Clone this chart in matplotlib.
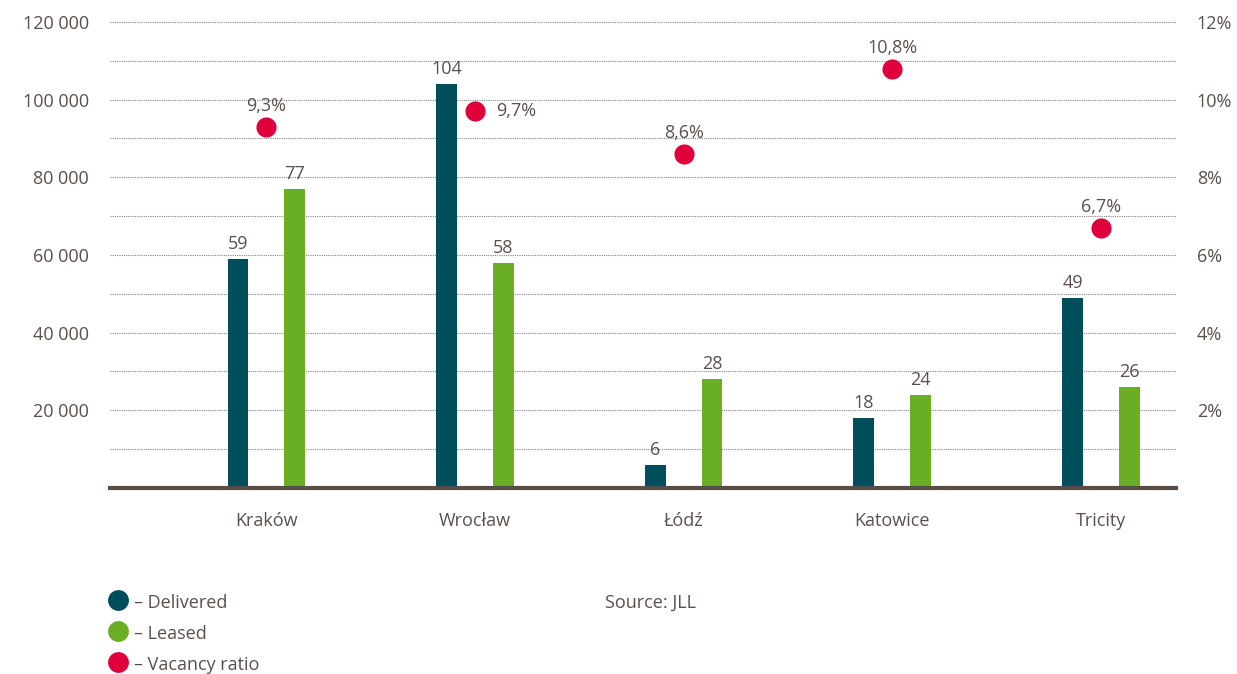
import numpy as np
import matplotlib
matplotlib.use("Agg")
import matplotlib.pyplot as plt
from matplotlib.lines import Line2D

plt.rcParams['font.family'] = ['Open Sans', 'DejaVu Sans']

cities = ["Kraków", "Wrocław", "Łódź", "Katowice", "Tricity"]
delivered = [59, 104, 6, 18, 49]      # thousand sq m
leased = [77, 58, 28, 24, 26]         # thousand sq m
vacancy = [9.3, 9.7, 8.6, 10.8, 6.7]  # %
vacancy_txt = ["9,3%", "9,7%", "8,6%", "10,8%", "6,7%"]

c_del = "#004d5c"
c_lea = "#6aaf23"
c_vac = "#e0003c"
c_txt = "#5b4f4b"
fs = 13

fig = plt.figure(figsize=(12.37, 6.74), dpi=100)
ax = fig.add_axes([0.0889, 0.276, 0.8618, 0.6914])
ax2 = ax.twinx()

x = np.arange(len(cities))
off = 0.136
w = 0.1
ax.bar(x - off, np.array(delivered) * 1000, w, color=c_del, zorder=3)
ax.bar(x + off, np.array(leased) * 1000, w, color=c_lea, zorder=3)
for i in range(len(cities)):
    ax.text(x[i] - off, delivered[i] * 1000 + 1500, str(delivered[i]), ha='center', va='bottom',
            fontsize=fs, color=c_txt)
    ax.text(x[i] + off, leased[i] * 1000 + 1500, str(leased[i]), ha='center', va='bottom',
            fontsize=fs, color=c_txt)

ax.set_xlim(-0.75, 4.36)
ax.set_ylim(0, 120000)
ax.set_yticks(np.arange(20000, 120001, 20000))
ax.set_yticks(np.arange(10000, 120001, 20000), minor=True)
ax.set_yticklabels(["{:,}".format(v).replace(",", " ") for v in range(20000, 120001, 20000)])
ax.grid(axis='y', which='both', color='#8a8280', linestyle=(0, (1, 1)), linewidth=0.8, zorder=0)
ax.set_xticks(x)
ax.set_xticklabels(cities)
ax.tick_params(axis='x', length=0, pad=17, labelsize=fs, labelcolor=c_txt)
ax.tick_params(axis='y', which='both', length=0, pad=15, labelsize=fs, labelcolor=c_txt)
for s in ['top', 'left', 'right']:
    ax.spines[s].set_visible(False)
ax.spines['bottom'].set_color('#5a4d48')
ax.spines['bottom'].set_linewidth(3)
ax.spines['bottom'].set_zorder(4)

ax2.scatter(x, vacancy, s=210, color=c_vac, zorder=5, linewidths=0)
ax2.set_ylim(0, 12)
ax2.set_yticks(np.arange(2, 13, 2))
ax2.set_yticklabels(["{}%".format(v) for v in range(2, 13, 2)])
ax2.tick_params(axis='y', length=0, pad=15, labelsize=fs, labelcolor=c_txt)
for s in ax2.spines.values():
    s.set_visible(False)
for i in range(len(cities)):
    if i == 1:
        ax2.text(x[i] + 0.1, vacancy[i], vacancy_txt[i], ha='left', va='center',
                 fontsize=fs, color=c_txt)
    else:
        ax2.text(x[i], vacancy[i] + 0.3, vacancy_txt[i], ha='center', va='bottom',
                 fontsize=fs, color=c_txt)

# legend
labels = ["– Delivered", "– Leased", "– Vacancy ratio"]
cols = [c_del, c_lea, c_vac]
for k in range(3):
    yy = 1 - (600 + 31 * k) / 674
    fig.add_artist(Line2D([118 / 1237], [yy], marker='o', markersize=15, color=cols[k],
                          markeredgewidth=0, transform=fig.transFigure))
    fig.text(134 / 1237, yy - 0.004, labels[k], ha='left', va='center', fontsize=fs, color=c_txt)
fig.text(605 / 1237, 1 - 603 / 674, "Source: JLL", ha='left', va='center', fontsize=fs, color=c_txt)

fig.savefig("out.png", dpi=100)
